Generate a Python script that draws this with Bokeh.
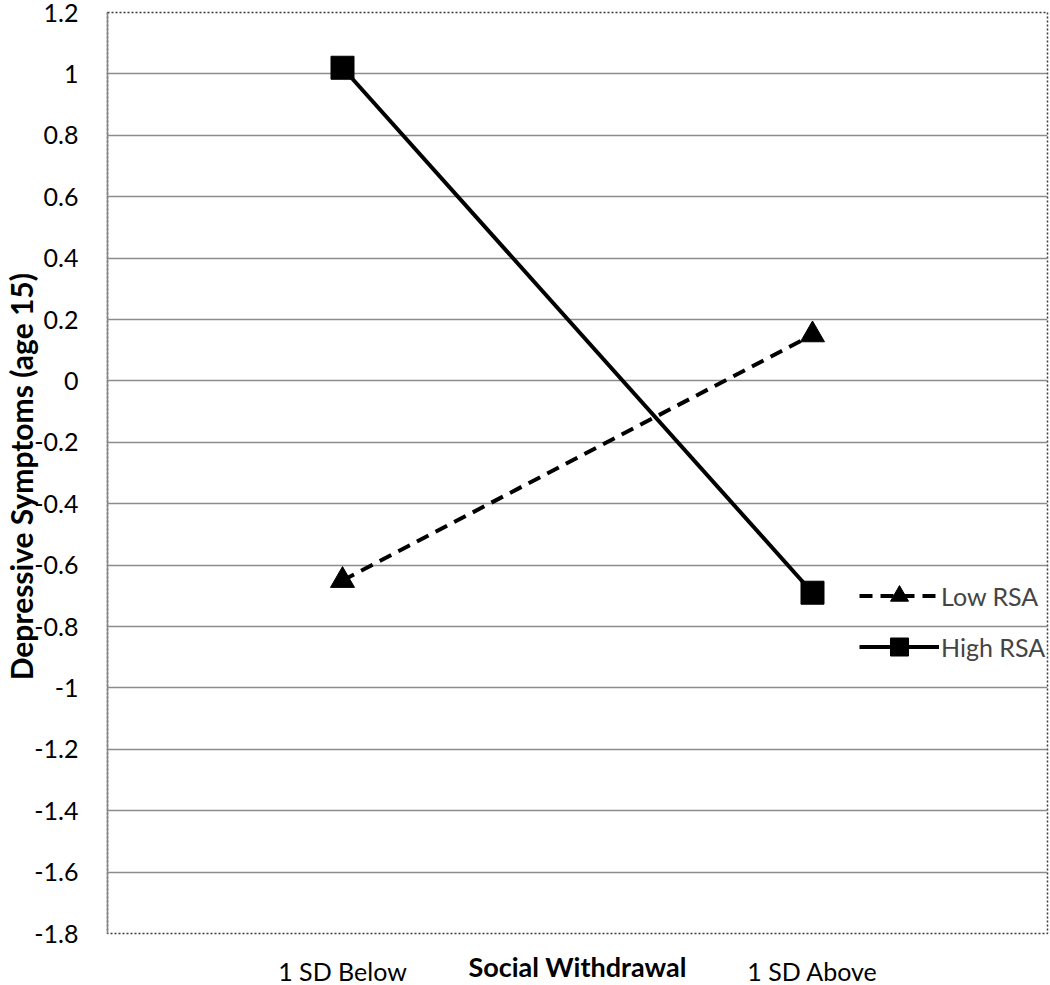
from bokeh.plotting import figure
from bokeh.models import Range1d, FixedTicker, Legend, LegendItem
from bokeh.embed import file_html
from bokeh.resources import INLINE

# ---- data ----
categories = ["1 SD Below", "1 SD Above"]
cat_pos = [0.5, 1.5]
low_rsa = [-0.65, 0.15]
high_rsa = [1.02, -0.69]
ytick_values = [1.2, 1.0, 0.8, 0.6, 0.4, 0.2, 0.0, -0.2, -0.4, -0.6, -0.8, -1.0, -1.2, -1.4, -1.6, -1.8]
ytick_labels = ["1.2", "1", "0.8", "0.6", "0.4", "0.2", "0", "-0.2", "-0.4", "-0.6", "-0.8", "-1", "-1.2", "-1.4", "-1.6", "-1.8"]
x_title = "Social Withdrawal"
y_title = "Depressive Symptoms  (age 15)"

FONT = "Lato"

p = figure(width=1050, height=985, output_backend="svg", toolbar_location=None,
           x_range=Range1d(0, 2), y_range=Range1d(-1.8, 1.2),
           min_border_left=107, min_border_top=12, min_border_right=3, min_border_bottom=52)
p.background_fill_color = "white"
p.border_fill_color = "white"
p.outline_line_color = "#3a3a3a"
p.outline_line_dash = "2 2"
p.outline_line_width = 1.5

# y axis
p.yaxis.ticker = FixedTicker(ticks=ytick_values)
p.yaxis.major_label_overrides = {v: l for v, l in zip(ytick_values, ytick_labels)}
p.yaxis.major_label_text_font = FONT
p.yaxis.major_label_text_font_size = "25px"
p.yaxis.major_label_text_color = "black"
p.yaxis.major_tick_line_color = None
p.yaxis.major_tick_out = 0
p.yaxis.major_tick_in = 0
p.yaxis.minor_tick_line_color = None
p.yaxis.minor_tick_out = 0
p.yaxis.major_label_standoff = 29
p.yaxis.axis_line_color = "#868686"
p.yaxis.axis_line_width = 1.5
p.yaxis.axis_label = y_title
p.yaxis.axis_label_text_font = FONT
p.yaxis.axis_label_text_font_style = "bold"
p.yaxis.axis_label_text_font_size = "30px"
p.yaxis.axis_label_text_color = "black"
p.yaxis.axis_label_standoff = -8

# x axis (category labels plus the bold title on the same row)
p.xaxis.ticker = FixedTicker(ticks=cat_pos)
p.xaxis.major_label_overrides = {v: l for v, l in zip(cat_pos, categories)}
p.xaxis.major_label_text_font = FONT
p.xaxis.major_label_text_font_size = "25px"
p.xaxis.major_label_text_color = "black"
p.xaxis.major_tick_line_color = None
p.xaxis.major_tick_out = 0
p.xaxis.major_tick_in = 0
p.xaxis.minor_tick_line_color = None
p.xaxis.minor_tick_out = 0
p.xaxis.axis_line_color = None
p.xaxis.major_label_standoff = 22
p.xaxis.axis_label = x_title
p.xaxis.axis_label_text_font = FONT
p.xaxis.axis_label_text_font_style = "bold"
p.xaxis.axis_label_text_font_size = "27px"
p.xaxis.axis_label_text_color = "black"
p.xaxis.axis_label_standoff = -39

# grid
p.xgrid.grid_line_color = None
p.ygrid.ticker = FixedTicker(ticks=ytick_values[1:-1])
p.ygrid.grid_line_color = "#8c8c8c"
p.ygrid.grid_line_width = 1.5

# series
l1 = p.line(cat_pos, low_rsa, line_color="black", line_width=4, line_dash="13 8")
m1 = p.scatter(cat_pos, low_rsa, marker="triangle", size=24, fill_color="black", line_color="black")
l2 = p.line(cat_pos, high_rsa, line_color="black", line_width=4)
m2 = p.scatter(cat_pos, high_rsa, marker="square", size=23, fill_color="black", line_color="black")

legend = Legend(items=[LegendItem(label="Low RSA", renderers=[l1, m1]),
                       LegendItem(label="High RSA", renderers=[l2, m2])],
                location=(752, 264), orientation="vertical",
                glyph_width=80, glyph_height=45, label_height=45, spacing=6,
                padding=0, margin=0, label_standoff=2,
                label_text_font=FONT, label_text_font_size="25px",
                border_line_color=None, background_fill_alpha=0)
p.add_layout(legend, "center")

open("out.html", "w").write(file_html(p, INLINE))
